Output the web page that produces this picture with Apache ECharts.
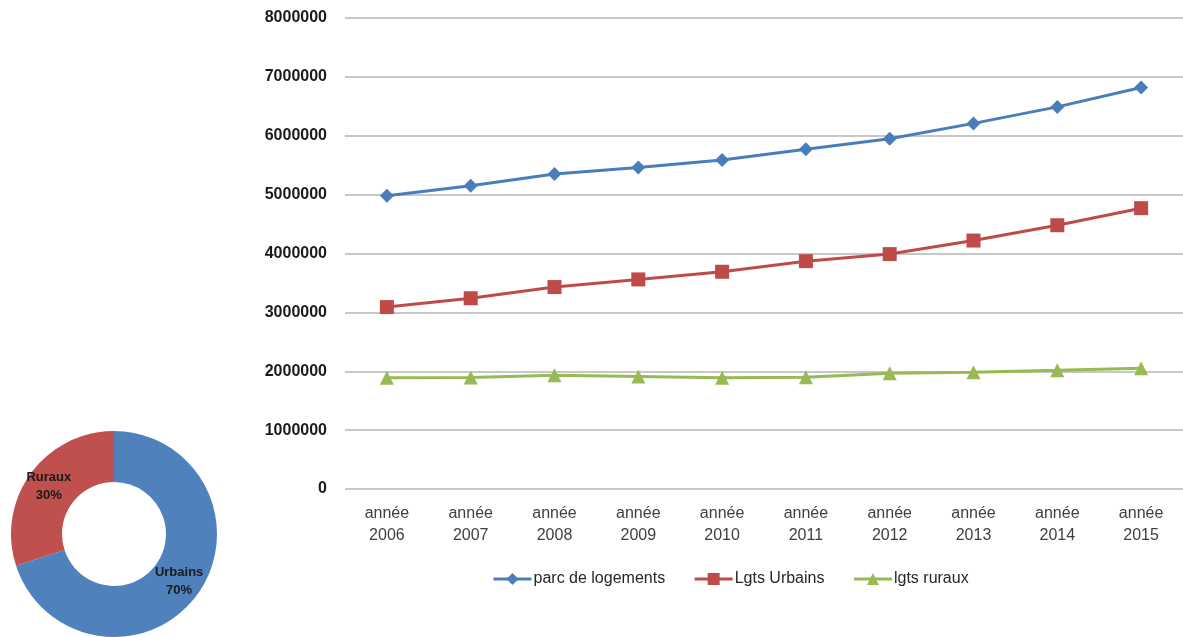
<!DOCTYPE html>
<html>
<head>
<meta charset="utf-8">
<title>Parc de logements 2006-2015</title>
<script src="https://cdn.jsdelivr.net/npm/echarts@6/dist/echarts.min.js"></script>
<style>
  html, body { margin: 0; padding: 0; background: #ffffff; }
  #chart { width: 1183px; height: 637px; }
</style>
</head>
<body>
<div id="chart"></div>
<script>
// Years on the x axis
const years = ['2006', '2007', '2008', '2009', '2010', '2011', '2012', '2013', '2014', '2015'];
const categoryLabels = years.map(y => 'année\n' + y);

// Housing stock series
const parcLogements = [4980000, 5150000, 5350000, 5460000, 5590000, 5770000, 5950000, 6210000, 6490000, 6820000];
const lgtsUrbains   = [3090000, 3240000, 3430000, 3560000, 3690000, 3870000, 3990000, 4220000, 4480000, 4770000];
const lgtsRuraux    = [1890000, 1895000, 1930000, 1910000, 1890000, 1900000, 1965000, 1985000, 2015000, 2050000];

// Urban / rural split shown in the donut (percent)
const splitNames  = ['Urbains', 'Ruraux'];
const splitValues = [70, 30];

// Y axis range
const yMin = 0, yMax = 8000000, yStep = 1000000;

const font = '"Liberation Sans", Arial, sans-serif';
const colors = { blue: '#4a7ebb', red: '#be4b48', green: '#98b954' };

const chart = echarts.init(document.getElementById('chart'), null, { renderer: 'canvas' });

chart.setOption({
  animation: false,
  backgroundColor: '#ffffff',
  textStyle: { fontFamily: font },
  grid: { left: 345, top: 18, width: 838, bottom: 148, containLabel: false },
  legend: {
    left: 487,
    top: 566,
    itemWidth: 38,
    itemHeight: 15,
    itemGap: 28,
    lineStyle: { width: 3 },
    textStyle: { fontSize: 16, color: '#262626', fontFamily: font, padding: [0, 0, 0, -3] },
    data: ['parc de logements', 'Lgts Urbains', 'lgts ruraux']
  },
  xAxis: {
    type: 'category',
    data: categoryLabels,
    boundaryGap: true,
    axisLine: { show: false },
    axisTick: { show: false },
    axisLabel: {
      margin: 14,
      fontSize: 16,
      lineHeight: 22,
      color: '#404040',
      fontFamily: font,
      interval: 0
    }
  },
  yAxis: {
    type: 'value',
    min: yMin,
    max: yMax,
    interval: yStep,
    axisLine: { show: false },
    axisTick: { show: false },
    splitLine: { lineStyle: { color: '#b4b4b4', width: 1.5 } },
    axisLabel: {
      margin: 18,
      fontSize: 16,
      fontWeight: 'bold',
      color: '#1a1a1a',
      fontFamily: font,
      formatter: v => String(v)
    }
  },
  series: [
    {
      name: 'parc de logements',
      type: 'line',
      data: parcLogements,
      symbol: 'diamond',
      symbolSize: 14,
      itemStyle: { color: colors.blue },
      lineStyle: { color: colors.blue, width: 3 }
    },
    {
      name: 'Lgts Urbains',
      type: 'line',
      data: lgtsUrbains,
      symbol: 'rect',
      symbolSize: 14,
      itemStyle: { color: colors.red },
      lineStyle: { color: colors.red, width: 3 }
    },
    {
      name: 'lgts ruraux',
      type: 'line',
      data: lgtsRuraux,
      symbol: 'triangle',
      symbolSize: 14,
      itemStyle: { color: colors.green },
      lineStyle: { color: colors.green, width: 3 }
    },
    {
      name: 'répartition',
      type: 'pie',
      center: [114, 534],
      radius: [52, 103],
      startAngle: 90,
      clockwise: true,
      silent: true,
      data: splitNames.map((n, i) => ({
        name: n,
        value: splitValues[i],
        itemStyle: { color: i === 0 ? '#4f81bd' : '#c0504d' }
      })),
      label: {
        show: true,
        position: 'inside',
        formatter: p => p.name + '\n' + p.value + '%',
        fontSize: 13,
        fontWeight: 'bold',
        lineHeight: 18,
        color: '#1a1a1a',
        fontFamily: font
      },
      labelLine: { show: false },
      emphasis: { disabled: true }
    }
  ]
});
</script>
</body>
</html>
